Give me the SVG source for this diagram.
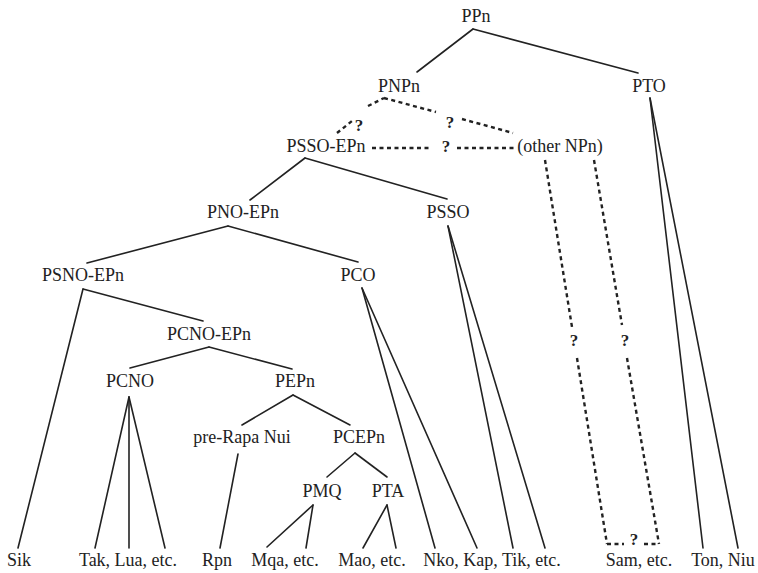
<svg xmlns="http://www.w3.org/2000/svg" width="758" height="573" viewBox="0 0 758 573">
<style>
text{font-family:"Liberation Serif","Tinos","DejaVu Serif","Noto Serif",serif;font-size:18px;fill:#222;text-anchor:middle}
text.q{font-weight:bold;font-size:17px}
.e{stroke:#222;stroke-width:1.6;fill:none;stroke-linecap:round}
.d{stroke:#222;stroke-width:2.4;fill:none;stroke-dasharray:4 3.5}
</style>
<rect width="758" height="573" fill="#fff"/>
<g id="connectors">
<line class="e" x1="473" y1="29" x2="417" y2="72"/>
<line class="e" x1="473" y1="29" x2="638" y2="73"/>
<line class="e" x1="305" y1="158" x2="250" y2="200"/>
<line class="e" x1="305" y1="158" x2="447" y2="199"/>
<line class="e" x1="228" y1="226" x2="87" y2="263"/>
<line class="e" x1="228" y1="226" x2="358" y2="262"/>
<line class="e" x1="83" y1="289" x2="203" y2="321"/>
<line class="e" x1="83" y1="289" x2="18" y2="548"/>
<line class="e" x1="209" y1="347" x2="130" y2="368"/>
<line class="e" x1="209" y1="347" x2="292" y2="369"/>
<line class="e" x1="129" y1="397" x2="95" y2="548"/>
<line class="e" x1="129" y1="397" x2="129" y2="548"/>
<line class="e" x1="129" y1="397" x2="165" y2="548"/>
<line class="e" x1="293" y1="395" x2="242" y2="425"/>
<line class="e" x1="293" y1="395" x2="350" y2="425"/>
<line class="e" x1="238" y1="454" x2="220" y2="548"/>
<line class="e" x1="355" y1="453" x2="327" y2="477"/>
<line class="e" x1="355" y1="453" x2="387" y2="477"/>
<line class="e" x1="313" y1="505" x2="267" y2="547"/>
<line class="e" x1="313" y1="505" x2="306" y2="548"/>
<line class="e" x1="387" y1="505" x2="363" y2="548"/>
<line class="e" x1="387" y1="505" x2="396" y2="548"/>
<line class="e" x1="362" y1="288" x2="435" y2="548"/>
<line class="e" x1="362" y1="288" x2="477" y2="548"/>
<line class="e" x1="448" y1="226" x2="513" y2="548"/>
<line class="e" x1="448" y1="226" x2="545" y2="548"/>
<line class="e" x1="650" y1="98" x2="703" y2="548"/>
<line class="e" x1="650" y1="98" x2="738" y2="548"/>
<line class="d" x1="337" y1="133" x2="352" y2="121"/>
<line class="d" x1="368" y1="106" x2="384" y2="98"/>
<line class="d" x1="384" y1="98" x2="436" y2="112"/>
<line class="d" x1="462" y1="119" x2="513" y2="133"/>
<line class="d" x1="372" y1="148" x2="432" y2="148"/>
<line class="d" x1="457" y1="148" x2="517" y2="148"/>
<line class="d" x1="545" y1="160" x2="572" y2="327"/>
<line class="d" x1="577" y1="358" x2="607" y2="544"/>
<line class="d" x1="594" y1="160" x2="622" y2="325"/>
<line class="d" x1="627" y1="358" x2="659" y2="544"/>
<line class="d" x1="607" y1="544" x2="624" y2="544"/>
<line class="d" x1="644" y1="544" x2="659" y2="544"/>
<text class="q" x="359" y="131">?</text>
<text class="q" x="450" y="128">?</text>
<text class="q" x="446" y="152">?</text>
<text class="q" x="574" y="346">?</text>
<text class="q" x="625" y="346">?</text>
<text class="q" x="634" y="545">?</text>
</g>
<g id="PPn"><text x="476" y="22">PPn</text></g>
<g id="PNPn"><text x="399" y="92">PNPn</text></g>
<g id="PTO"><text x="649" y="92">PTO</text></g>
<g id="PSSO-EPn"><text x="326" y="152">PSSO-EPn</text></g>
<g id="otherNPn"><text x="560" y="152">(other NPn)</text></g>
<g id="PNO-EPn"><text x="243" y="218">PNO-EPn</text></g>
<g id="PSSO"><text x="448" y="218">PSSO</text></g>
<g id="PSNO-EPn"><text x="83" y="281">PSNO-EPn</text></g>
<g id="PCO"><text x="358" y="281">PCO</text></g>
<g id="PCNO-EPn"><text x="209" y="340">PCNO-EPn</text></g>
<g id="PCNO"><text x="130" y="387">PCNO</text></g>
<g id="PEPn"><text x="295" y="387">PEPn</text></g>
<g id="preRapaNui"><text x="242" y="443">pre-Rapa Nui</text></g>
<g id="PCEPn"><text x="359" y="443">PCEPn</text></g>
<g id="PMQ"><text x="322" y="497">PMQ</text></g>
<g id="PTA"><text x="388" y="497">PTA</text></g>
<g id="Sik"><text x="19" y="566">Sik</text></g>
<g id="Tak"><text x="128" y="566">Tak, Lua, etc.</text></g>
<g id="Rpn"><text x="217" y="566">Rpn</text></g>
<g id="Mqa"><text x="285" y="566">Mqa, etc.</text></g>
<g id="Mao"><text x="372" y="566">Mao, etc.</text></g>
<g id="Nko"><text x="492" y="566">Nko, Kap, Tik, etc.</text></g>
<g id="Sam"><text x="639" y="566">Sam, etc.</text></g>
<g id="Ton"><text x="723" y="566">Ton, Niu</text></g>
</svg>
